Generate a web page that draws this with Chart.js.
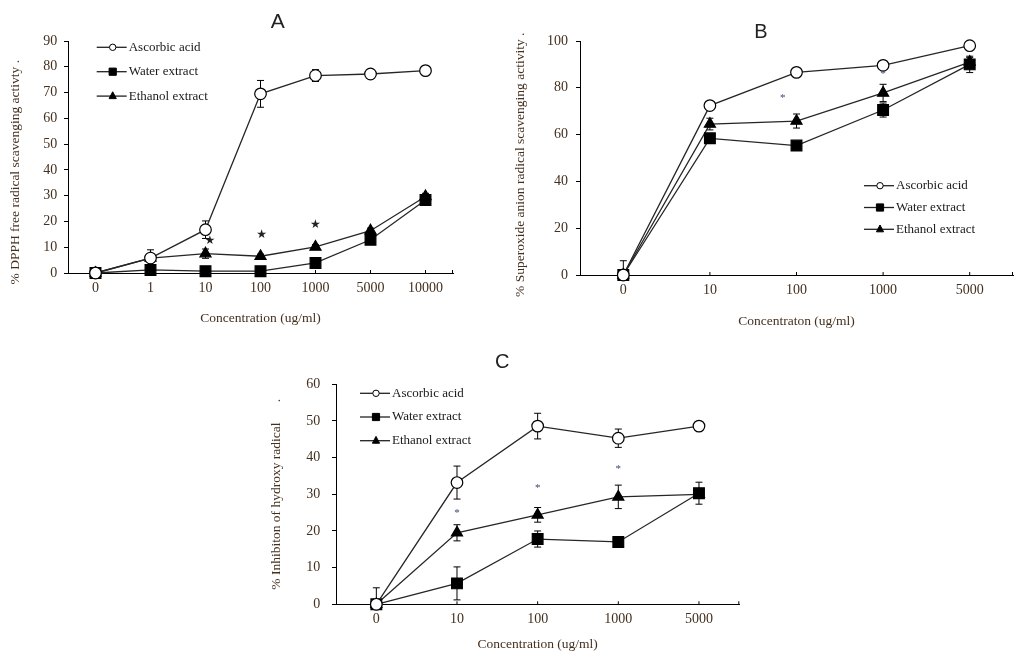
<!DOCTYPE html>
<html>
<head>
<meta charset="utf-8">
<script src="https://cdn.jsdelivr.net/npm/chart.js@4.4.1/dist/chart.umd.min.js"></script>
<style>
  html, body { margin:0; padding:0; background:#fff; }
  body { width:1024px; height:661px; position:relative; overflow:hidden; }
  .panel { position:absolute; }
</style>
</head>
<body>
<div class="panel" style="left:0;top:0;width:480px;height:335px"><canvas id="chartA"></canvas></div>
<div class="panel" style="left:490px;top:0;width:534px;height:335px"><canvas id="chartB"></canvas></div>
<div class="panel" style="left:240px;top:335px;width:520px;height:326px"><canvas id="chartC"></canvas></div>
<script>
/* ---------- data: panel A (DPPH) ---------- */
const concA       = ['0','1','10','100','1000','5000','10000'];
const ascorbicA   = [0, 5.8, 16.8, 69.5, 76.6, 77.2, 78.5];
const ascorbicErrA= [0, 0, 3.4, 5.2, 2.3, 0.6, 0.6];
const waterA      = [0, 1.2, 0.7, 0.7, 3.9, 12.9, 28.3];
const waterErrA   = [0, 0.6, 0.4, 0.4, 0.8, 1.2, 1.2];
const ethanolA    = [0, 5.8, 7.5, 6.5, 10.1, 16.4, 29.7];
const ethanolErrA = [0, 3.2, 1.8, 0.8, 0.9, 1.0, 1.2];
const sigXA = [2.08, 3.02, 4.0];
const sigYA = [12.3, 14.9, 18.7];

/* ---------- data: panel B (superoxide) ---------- */
const concB       = ['0','10','100','1000','5000'];
const ascorbicB   = [0, 72.4, 86.6, 89.6, 98];
const ascorbicErrB= [0, 0.8, 1.5, 0.8, 0.6];
const waterB      = [0, 58.4, 55.3, 70.5, 90];
const waterErrB   = [6.1, 2, 1, 3, 3.5];
const ethanolB    = [0, 64.5, 65.8, 77.8, 91];
const ethanolErrB = [0, 2.5, 3, 3.7, 2];
const sigXB = [1.84, 3.0];
const sigYB = [75.6, 86.0];

/* ---------- data: panel C (hydroxyl) ---------- */
const concC       = ['0','10','100','1000','5000'];
const ascorbicC   = [0, 33.2, 48.6, 45.3, 48.6];
const ascorbicErrC= [0, 4.5, 3.5, 2.5, 0.5];
const waterC      = [0, 5.7, 17.8, 17.0, 30.3];
const waterErrC   = [4.5, 4.5, 2.2, 0.8, 3];
const ethanolC    = [0, 19.5, 24.4, 29.3, 30];
const ethanolErrC = [0, 2.2, 2, 3.2, 1];
const sigXC = [1, 2, 3];
const sigYC = [24.8, 31.6, 36.8];

const TXT = '#43301f';
Chart.defaults.font.family = "'Liberation Serif', 'Times New Roman', serif";

/* ---------- helpers ---------- */
function marker(ctx, style, x, y, r, fill){
  ctx.beginPath();
  if (style === 'circle') ctx.arc(x, y, r, 0, Math.PI*2);
  else if (style === 'rect') ctx.rect(x-r, y-r, 2*r, 2*r);
  else { ctx.moveTo(x, y-r*1.2); ctx.lineTo(x+r, y+r*0.7); ctx.lineTo(x-r, y+r*0.7); ctx.closePath(); }
  ctx.fillStyle = fill; ctx.fill(); ctx.stroke();
}

// error bars under the lines/markers, plus the small inward x ticks
const errorBars = {
  id: 'errorBars',
  beforeDatasetsDraw(chart){
    const {ctx, scales:{x, y}} = chart;
    ctx.save(); ctx.strokeStyle = '#000'; ctx.lineWidth = 1;
    // inward ticks on the category axis (at each category and the right end)
    const base = y.getPixelForValue(0);
    ctx.beginPath();
    chart.data.labels.forEach((_, j) => {
      const px = x.getPixelForValue(j);
      ctx.moveTo(px, base); ctx.lineTo(px, base - 3);
    });
    ctx.moveTo(x.right - 0.5, base); ctx.lineTo(x.right - 0.5, base - 3);
    ctx.stroke();

    chart.data.datasets.forEach(ds => {
      ds.data.forEach((v, j) => {
        const e = ds.errors[j]; if (!e) return;
        const px = x.getPixelForValue(j);
        const top = y.getPixelForValue(v + e);
        const lo = v - e;
        const bot = y.getPixelForValue(Math.max(0, lo));
        ctx.beginPath();
        ctx.moveTo(px, top); ctx.lineTo(px, bot);
        ctx.moveTo(px-3.5, top); ctx.lineTo(px+3.5, top);
        if (lo > 0) { ctx.moveTo(px-3.5, bot); ctx.lineTo(px+3.5, bot); }
        ctx.stroke();
      });
    });
    ctx.restore();
  }
};

const sigPlugin = (xs, ys, glyph, font, color) => ({
  id: 'sigMarks',
  afterDatasetsDraw(chart){
    const {ctx, scales:{x, y}} = chart;
    ctx.save();
    ctx.font = font; ctx.fillStyle = color;
    ctx.textAlign = 'center'; ctx.textBaseline = 'middle';
    xs.forEach((xv, i) => ctx.fillText(glyph, x.getPixelForValue(xv), y.getPixelForValue(ys[i])));
    ctx.restore();
  }
});

const legendPlugin = (lx, ly, gap) => ({
  id: 'boxLegend',
  afterDraw(chart){
    const {ctx} = chart;
    ctx.save();
    ctx.font = "13px 'Liberation Serif', serif";
    ctx.textBaseline = 'middle'; ctx.textAlign = 'left';
    chart.data.datasets.forEach((ds, i) => {
      const yy = ly + i*gap;
      ctx.strokeStyle = '#222'; ctx.lineWidth = 1.3;
      ctx.beginPath(); ctx.moveTo(lx, yy); ctx.lineTo(lx+30, yy); ctx.stroke();
      ctx.lineWidth = 1; ctx.strokeStyle = '#000';
      marker(ctx, ds.pointStyle, lx+16, yy, ds.pointStyle === 'circle' ? 3.2 : 3.6, ds.pointBackgroundColor);
      ctx.fillStyle = '#1a1a1a';
      ctx.fillText(ds.label, lx+32, yy);
    });
    ctx.restore();
  }
});

const letterPlugin = (txt, lx, ly, size) => ({
  id: 'panelLetter',
  afterDraw(chart){
    const {ctx} = chart;
    ctx.save();
    ctx.font = size + "px 'Liberation Sans', Arial, sans-serif";
    ctx.fillStyle = '#222'; ctx.textAlign = 'center'; ctx.textBaseline = 'middle';
    ctx.fillText(txt, lx, ly);
    ctx.restore();
  }
});

function series(label, data, errors, style, fill, r){
  return {
    label, data, errors,
    borderColor: '#262626', borderWidth: 1.3, tension: 0, clip: false,
    pointStyle: style, pointRadius: r, pointHoverRadius: r,
    pointBackgroundColor: fill, pointBorderColor: '#000', pointBorderWidth: 1.2
  };
}

function makePanel(id, p){
  return new Chart(document.getElementById(id), {
    type: 'line',
    data: {
      labels: p.labels,
      datasets: [
        series('Ascorbic acid',   p.asc, p.ascErr, 'circle',   '#fff', 5.8),
        series('Water extract',   p.wat, p.watErr, 'rect',     '#000', 7.6),
        series('Ethanol extract', p.eth, p.ethErr, 'triangle', '#000', 6.4)
      ]
    },
    options: {
      responsive: true, maintainAspectRatio: false, animation: false,
      layout: { padding: p.pad },
      plugins: { legend: {display:false}, tooltip: {enabled:false} },
      scales: {
        x: {
          type: 'category', offset: true,
          grid: { display:true, drawOnChartArea:false, drawTicks:false, color:'#000' },
          border: { color:'#000', width:1 },
          ticks: { color:TXT, font:{size:14}, padding:7, maxRotation:0, autoSkip:false },
          title: { display:true, text:p.xTitle, color:TXT, font:{size:13.5}, padding:{top:0, bottom:p.xTitlePad} },
          afterFit(s){ s.height = p.xH; }
        },
        y: {
          min: 0, max: p.yMax,
          grid: { drawOnChartArea:false, tickLength:4, color:'#000' },
          border: { color:'#000', width:1 },
          ticks: { stepSize:p.yStep, color:TXT, font:{size:14}, padding:p.yTickPad },
          title: { display:true, text:p.yTitle, color:TXT, font:{size:13.5}, padding:{top:p.yTitlePad, bottom:0} },
          afterFit(s){ s.width = p.yW; }
        }
      }
    },
    plugins: [errorBars, sigPlugin(...p.sig), legendPlugin(...p.leg), letterPlugin(...p.letter)]
  });
}

makePanel('chartA', {
  labels: concA, asc: ascorbicA, ascErr: ascorbicErrA, wat: waterA, watErr: waterErrA, eth: ethanolA, ethErr: ethanolErrA,
  pad: {left:0, top:41, right:27, bottom:0}, yW: 68, xH: 62, yMax: 90, yStep: 10,
  xTitle: 'Concentration (ug/ml)', xTitlePad: 8.9,
  yTitle: '% DPPH free radical scavenging activty .         ', yTitlePad: 6.9, yTickPad: 6.7,
  sig: [sigXA, sigYA, '\u2605', "12px 'DejaVu Sans', sans-serif", '#222'],
  leg: [96.7, 47.3, 24.4],
  letter: ['A', 277.7, 22.7, 21]
});

makePanel('chartB', {
  labels: concB, asc: ascorbicB, ascErr: ascorbicErrB, wat: waterB, watErr: waterErrB, eth: ethanolB, ethErr: ethanolErrB,
  pad: {left:0, top:41, right:11, bottom:0}, yW: 90, xH: 60, yMax: 100, yStep: 20,
  xTitle: 'Concentraton (ug/ml)', xTitlePad: 5.2,
  yTitle: '% Superoxide anion radical scavenging activity .    ', yTitlePad: 22.6, yTickPad: 8,
  sig: [sigXB, sigYB, '*', "11px 'Liberation Serif', serif", '#3d4a7a'],
  leg: [374, 185.7, 21.8],
  letter: ['B', 271, 32.3, 20]
});

makePanel('chartC', {
  labels: concC, asc: ascorbicC, ascErr: ascorbicErrC, wat: waterC, watErr: waterErrC, eth: ethanolC, ethErr: ethanolErrC,
  pad: {left:0, top:49.3, right:20.7, bottom:0}, yW: 96, xH: 56.7, yMax: 60, yStep: 10,
  xTitle: 'Concentration (ug/ml)', xTitlePad: 8.9,
  yTitle: '% Inhibiton of hydroxy radical      .', yTitlePad: 28.6, yTickPad: 11.7,
  sig: [sigXC, sigYC, '*', "11px 'Liberation Serif', serif", '#3d4a7a'],
  leg: [120, 58.3, 23.7],
  letter: ['C', 262.3, 27.7, 20]
});
</script>
</body>
</html>
